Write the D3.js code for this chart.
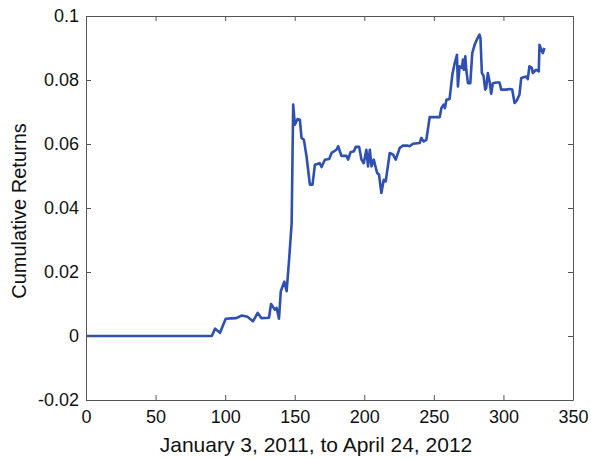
<!DOCTYPE html>
<html><head><meta charset="utf-8">
<script src="https://cdn.jsdelivr.net/npm/d3@7"></script>
<style>body{margin:0;background:#fff}svg{display:block}</style>
</head><body>
<script>
const days = [0,90.4,92.8,96.3,100.4,104,108,112,116,120,123.4,126,131.5,133,135.8,137,138.7,140,142.5,144.2,146,147.8,148.9,150.1,152,153.7,154.9,156.6,158.5,160.9,162.8,164.5,168,169.3,171.7,174.8,176.5,180,181.2,183.6,187.2,188.4,190.1,192.5,193.9,196.3,198,199.6,201.5,202.7,204,205.2,206.8,209.2,210.6,212.3,214,215.4,218.3,220.7,222.6,225.5,227.8,230.7,232.6,235,239.8,241,242.7,244.6,247,254.2,255.4,257,258,259,261.3,263.3,265,266.6,267.3,268.5,270.2,270.9,271.6,272.6,273.3,274.5,276.2,277.6,279.3,280.9,282.8,283.5,284.5,285.7,286.9,287.6,288.8,290,291.2,292.4,294.8,297.2,298.4,302,304.4,306.3,308,309.6,311.5,312.8,316.3,317.5,318.7,320.4,321.1,323.5,325.4,325.9,327.1,328.3,329.5];
const returns = [0,0,0.0023,0.001,0.0054,0.0055,0.0056,0.0064,0.006,0.0046,0.0072,0.0056,0.0057,0.01,0.0082,0.0088,0.0054,0.014,0.017,0.014,0.024,0.0353,0.0723,0.066,0.0678,0.0676,0.0619,0.0613,0.0561,0.0473,0.0473,0.0535,0.054,0.0528,0.0551,0.0553,0.0572,0.0582,0.0593,0.0563,0.0563,0.0551,0.0574,0.0577,0.0591,0.0591,0.0551,0.054,0.0582,0.053,0.0582,0.053,0.0551,0.051,0.0504,0.0447,0.0488,0.0483,0.0572,0.0567,0.0551,0.0588,0.0595,0.0595,0.0593,0.0601,0.0603,0.0619,0.0608,0.0613,0.0684,0.0684,0.0712,0.0723,0.0712,0.0738,0.0741,0.0817,0.0853,0.0879,0.078,0.0843,0.0838,0.0864,0.0832,0.0874,0.0832,0.079,0.079,0.0884,0.091,0.0926,0.0942,0.0931,0.0822,0.0813,0.077,0.0775,0.0822,0.0796,0.0757,0.079,0.0792,0.0792,0.077,0.077,0.0772,0.077,0.0728,0.0736,0.0754,0.0806,0.0811,0.0803,0.0843,0.0838,0.0822,0.0832,0.0827,0.091,0.0897,0.0884,0.09];
const xTicks = [0,50,100,150,200,250,300,350];
const yTicks = [-0.02,0,0.02,0.04,0.06,0.08,0.1];
const yTickLabels = ["-0.02","0","0.02","0.04","0.06","0.08","0.1"];
const xLabel = "January 3, 2011, to April 24, 2012";
const yLabel = "Cumulative Returns";

const W = 591, H = 459;
const m = {left: 86, right: 18, top: 16, bottom: 59};
const svg = d3.select("body").append("svg").attr("width", W).attr("height", H)
  .style("font-family", "'Liberation Sans', Arial, Helvetica, sans-serif");
const x = d3.scaleLinear().domain([0, 350]).range([m.left, W - m.right]);
const y = d3.scaleLinear().domain([-0.02, 0.1]).range([H - m.bottom, m.top]);
const axisColor = "#555";
const fs = 18;

const line = d3.line().x((d, i) => x(days[i])).y(d => y(d));
svg.append("path").datum(returns).attr("d", line)
  .attr("fill", "none").attr("stroke", "#2f4fb3").attr("stroke-width", 2.6)
  .attr("stroke-linejoin", "round");

function styleAxis(g) {
  g.select(".domain").attr("stroke", axisColor).attr("stroke-width", 1);
  g.selectAll(".tick line").attr("stroke", axisColor).attr("stroke-width", 1);
  g.selectAll("text").attr("fill", "#111").style("font-size", fs + "px");
}
const tl = 5;
svg.append("g").attr("transform", `translate(0,${H - m.bottom})`)
  .call(d3.axisBottom(x).tickValues(xTicks).tickSize(-tl).tickPadding(8).tickSizeOuter(0).tickFormat(d3.format("d")))
  .call(styleAxis).call(g => g.selectAll("text").attr("dy", "0.85em"));
svg.append("g").attr("transform", `translate(0,${m.top})`)
  .call(d3.axisTop(x).tickValues(xTicks).tickSize(-tl).tickSizeOuter(0).tickFormat(""))
  .call(styleAxis);
svg.append("g").attr("transform", `translate(${m.left},0)`)
  .call(d3.axisLeft(y).tickValues(yTicks).tickSize(-tl).tickPadding(7).tickSizeOuter(0).tickFormat((d, i) => yTickLabels[i]))
  .call(styleAxis);
svg.append("g").attr("transform", `translate(${W - m.right},0)`)
  .call(d3.axisRight(y).tickValues(yTicks).tickSize(-tl).tickSizeOuter(0).tickFormat(""))
  .call(styleAxis);

svg.append("text").attr("x", 316).attr("y", 452).attr("text-anchor", "middle")
  .style("font-size", "21px").attr("fill", "#111").text(xLabel);
svg.append("text").attr("transform", `translate(26,211) rotate(-90)`)
  .attr("text-anchor", "middle").style("font-size", "20px").attr("fill", "#111").text(yLabel);
</script>
</body></html>
